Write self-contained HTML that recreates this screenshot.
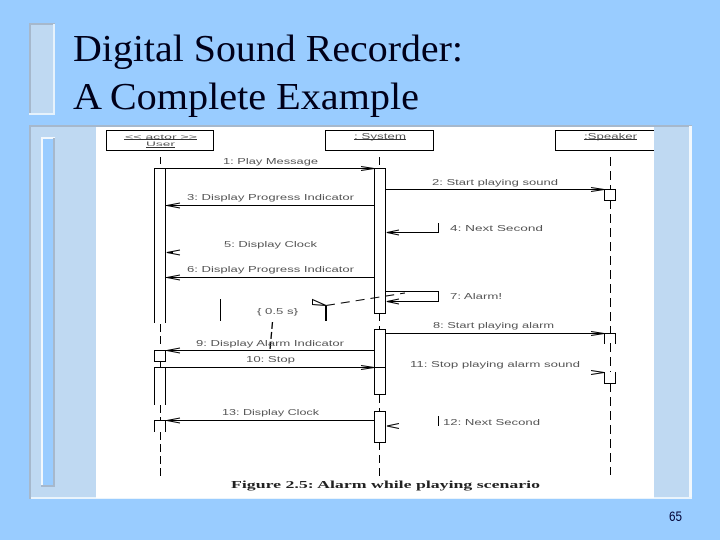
<!DOCTYPE html>
<html>
<head>
<meta charset="utf-8">
<style>
html,body{margin:0;padding:0;background:#99CCFF;}
svg{display:block;position:absolute;left:0;top:0;}
.t{font-family:"Liberation Sans",sans-serif;font-size:8px;fill:#555;}
.s{font-family:"Liberation Sans",sans-serif;font-size:6.500px;fill:#555;}
.f{font-family:"Liberation Serif",serif;font-size:10px;font-weight:bold;fill:#222;}
.h{font-family:"Liberation Serif",serif;font-size:38px;fill:#00001A;}
</style>
</head>
<body>
<svg width="720" height="540" viewBox="0 0 720 540" xmlns="http://www.w3.org/2000/svg">
<rect width="720" height="540" fill="#99CCFF"/>

<!-- top-left decoration -->
<rect x="30" y="24" width="25" height="91" fill="#BFD9F2"/>
<rect x="29" y="23" width="26" height="2" fill="#A6B8CC"/>
<rect x="29" y="23" width="2" height="92" fill="#A6B8CC"/>
<rect x="53" y="24" width="2" height="91" fill="#E6F2FC"/>
<rect x="29" y="113" width="26" height="2" fill="#E6F2FC"/>

<!-- main panel -->
<rect x="29" y="125" width="663" height="374" fill="#BFD9F2"/>
<rect x="29" y="125" width="663" height="2" fill="#A6B8CC"/>
<rect x="29" y="125" width="2" height="374" fill="#A6B8CC"/>
<rect x="689" y="126" width="3" height="373" fill="#F2F8FD"/>
<rect x="31" y="497" width="661" height="2" fill="#EAF4FC"/>
<rect x="96" y="127" width="558" height="371" fill="#FFFFFF"/>

<!-- lower-left decoration -->
<rect x="41" y="137" width="14" height="350" fill="#99CCFF"/>
<rect x="41" y="137" width="14" height="2" fill="#F2F8FD"/>
<rect x="41" y="137" width="2" height="350" fill="#F2F8FD"/>
<rect x="53" y="138" width="2" height="349" fill="#A6B8CC"/>
<rect x="41" y="485" width="14" height="2" fill="#A6B8CC"/>

<!-- title -->
<text class="h" x="73" y="61" textLength="390" lengthAdjust="spacingAndGlyphs">Digital Sound Recorder:</text>
<text class="h" x="73" y="109" textLength="346" lengthAdjust="spacingAndGlyphs">A Complete Example</text>

<g fill="none" stroke="#000" stroke-width="1">
  <!-- header boxes -->
  <rect x="106.500" y="130.500" width="107" height="20"/>
  <rect x="325.500" y="130.500" width="108" height="20"/>
  <path d="M654 130.500H555.500V150.500H654"/>

  <!-- lifelines -->
  <path d="M160.500 157V164M160.500 324V345M160.500 361V367M160.500 405V420M160.500 432V476" stroke-dasharray="8 4"/>
  <path d="M379.500 157V168M379.500 313V329M379.500 395V411M379.500 442V476" stroke-dasharray="8 5"/>
  <path d="M610.500 157V189M610.500 200V333M610.500 343V372M610.500 383V475" stroke-dasharray="9 5"/>

  <!-- activations: User -->
  <path d="M154.500 323V168.500H165.500V323"/>
  <rect x="154.500" y="350.500" width="11" height="11"/>
  <path d="M154.500 405V367.500H165.500V405"/>
  <path d="M154.500 432V420.500H165.500V432"/>

  <!-- activations: System -->
  <rect x="374.500" y="168.500" width="11" height="145"/>
  <rect x="374.500" y="329.500" width="11" height="65"/>
  <rect x="374.500" y="411.500" width="11" height="31"/>

  <!-- activations: Speaker -->
  <rect x="604.500" y="189.500" width="11" height="11"/>
  <path d="M604.500 344V333.500H615.500V344"/>
  <path d="M604.500 372V383.500H615.500V372"/>

  <!-- messages -->
  <path d="M165.500 168.500H374"/>
  <path d="M361 166.500L374 168.500L361 170.500"/>
  <path d="M385.500 189.500H604"/>
  <path d="M591 187.500L604 189.500L591 191.500"/>
  <path d="M166 205.500H374"/>
  <path d="M180 203L167 205.500L180 208"/>
  <path d="M438.500 223V232.500H387"/>
  <path d="M399 230L387 232.500L399 235"/>
  <path d="M180 250L167 252.500L180 255"/>
  <path d="M166 277.500H374"/>
  <path d="M180 275L167 277.500L180 280"/>
  <path d="M385.500 291.500H438.500V301.500H387"/>
  <path d="M399 299L387 301.500L399 304"/>
  <path d="M385.500 333.500H604"/>
  <path d="M591 331.500L604 333.500L591 335.500"/>
  <path d="M166 350.500H374"/>
  <path d="M180 348L167 350.500L180 353"/>
  <path d="M154.500 367.500H374"/>
  <path d="M361 365.500L374 367.500L361 369.500"/>
  <path d="M385.500 367.500H374"/>
  <path d="M591 370.500L604 372.500L591 374.500"/>
  <path d="M166 420.500H374"/>
  <path d="M180 418L167 420.500L180 423"/>
  <path d="M438.500 416V426"/>
  <path d="M399 423.500L387 426L399 428.500"/>

  <!-- timing -->
  <path d="M220.500 299V321"/>
  <path d="M326 306V321" stroke-width="2"/>
  <path d="M312.500 299.500V304.500L326 305.500Z"/>
  <path d="M326 305.500L405 293" stroke-dasharray="9 6"/>
  <path d="M272.500 322L270 350" stroke-dasharray="7 3" stroke-width="1.300"/>
</g>

<!-- arrowhead solid wedges -->
<g fill="#000">
  <path d="M166 205.500L173 204V207Z"/>
  <path d="M166 252.500L173 251V254Z"/>
  <path d="M166 277.500L173 276V279Z"/>
  <path d="M166 350.500L173 349V352Z"/>
  <path d="M166 420.500L173 419V422Z"/>
  <path d="M386 232.500L393 231V234Z"/>
  <path d="M386 301.500L393 300V303Z"/>
  <path d="M374 168.500L367 167V170Z"/>
  <path d="M374 367.500L367 366V369Z"/>
  <path d="M604 189.500L597 188V191Z"/>
  <path d="M604 333.500L597 332V335Z"/>
</g>

<!-- diagram labels -->
<text class="s" x="125" y="139" textLength="72" lengthAdjust="spacingAndGlyphs">&lt;&lt; actor &gt;&gt;</text>
<rect x="124" y="139" width="73" height="1" fill="#333"/>
<text class="s" x="146" y="146" textLength="29" lengthAdjust="spacingAndGlyphs">User</text>
<rect x="146" y="147" width="29" height="1" fill="#333"/>
<text class="t" x="354" y="139" textLength="52" lengthAdjust="spacingAndGlyphs">: System</text>
<rect x="354" y="139" width="52" height="1" fill="#333"/>
<text class="t" x="584" y="139" textLength="53" lengthAdjust="spacingAndGlyphs">:Speaker</text>
<rect x="584" y="139" width="53" height="1" fill="#333"/>

<text class="t" x="223" y="164" textLength="95" lengthAdjust="spacingAndGlyphs">1: Play Message</text>
<text class="t" x="432" y="185" textLength="126" lengthAdjust="spacingAndGlyphs">2: Start playing sound</text>
<text class="t" x="187" y="200" textLength="167" lengthAdjust="spacingAndGlyphs">3: Display Progress Indicator</text>
<text class="t" x="450" y="231" textLength="93" lengthAdjust="spacingAndGlyphs">4:   Next Second</text>
<text class="t" x="224" y="247" textLength="93" lengthAdjust="spacingAndGlyphs">5: Display Clock</text>
<text class="t" x="187" y="272" textLength="167" lengthAdjust="spacingAndGlyphs">6: Display Progress Indicator</text>
<text class="t" x="450" y="299" textLength="52" lengthAdjust="spacingAndGlyphs">7: Alarm!</text>
<text class="t" x="257" y="314" textLength="41" lengthAdjust="spacingAndGlyphs">{ 0.5 s}</text>
<text class="t" x="433" y="328" textLength="121" lengthAdjust="spacingAndGlyphs">8: Start playing alarm</text>
<text class="t" x="196" y="346" textLength="148" lengthAdjust="spacingAndGlyphs">9: Display Alarm Indicator</text>
<text class="t" x="246" y="362" textLength="49" lengthAdjust="spacingAndGlyphs">10: Stop</text>
<text class="t" x="410" y="367" textLength="170" lengthAdjust="spacingAndGlyphs">11: Stop playing alarm sound</text>
<text class="t" x="222" y="415" textLength="97" lengthAdjust="spacingAndGlyphs">13: Display Clock</text>
<text class="t" x="443" y="425" textLength="97" lengthAdjust="spacingAndGlyphs">12: Next Second</text>
<text class="f" x="231" y="488" textLength="309" lengthAdjust="spacingAndGlyphs">Figure 2.5: Alarm while playing scenario</text>

<!-- page number -->
<text x="669" y="521" font-family="Liberation Sans, sans-serif" font-size="14" fill="#000033" textLength="13" lengthAdjust="spacingAndGlyphs">65</text>
</svg>
</body>
</html>
